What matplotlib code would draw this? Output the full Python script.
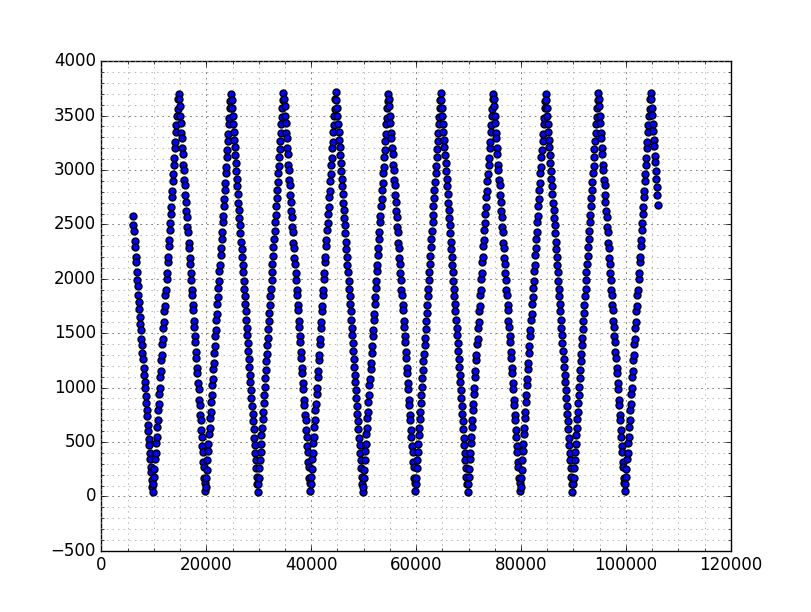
import matplotlib
matplotlib.use("Agg")
import matplotlib.pyplot as plt
from matplotlib.ticker import MultipleLocator

# values, one line per rise / fall of the signal
x_vals = [
    6000, 6090, 6210, 6300, 6380, 6510, 6590, 6700, 6820, 6890, 7000, 7110, 7190, 7300, 7420, 7480, 7600, 7710, 7790, 7900, 8030, 8090, 8200, 8300, 8410, 8490, 8600, 8720, 8780, 8900, 9010, 9090, 9200, 9310, 9390, 9500, 9620, 9690, 9800,
    9900, 10010, 10090, 10200, 10320, 10390, 10500, 10600, 10710, 10790, 10900, 11020, 11090, 11200, 11310, 11400, 11490, 11600, 11720, 11790, 11900, 12010, 12100, 12190, 12300, 12420, 12480, 12600, 12710, 12790, 12900, 13000, 13120, 13190, 13300, 13410, 13490, 13600, 13700, 13820, 13890, 14000, 14100, 14210, 14290, 14400, 14510, 14590, 14700,
    14800, 14910, 14990, 15100, 15210, 15290, 15400, 15500, 15610, 15690, 15800, 15920, 15990, 16100, 16200, 16310, 16390, 16500, 16610, 16700, 16790, 16900, 17010, 17100, 17190, 17300, 17420, 17490, 17600, 17700, 17810, 17890, 18000, 18100, 18210, 18290, 18400, 18510, 18590, 18700, 18800, 18910, 18990, 19100, 19200, 19310, 19390, 19500, 19600, 19710, 19800,
    19900, 20010, 20090, 20200, 20320, 20390, 20500, 20600, 20710, 20790, 20900, 21020, 21090, 21200, 21310, 21400, 21490, 21600, 21720, 21790, 21900, 22010, 22100, 22190, 22300, 22420, 22480, 22600, 22710, 22790, 22900, 23000, 23120, 23190, 23300, 23410, 23490, 23600, 23700, 23820, 23890, 24000, 24100, 24210, 24290, 24400, 24510, 24590, 24700,
    24800, 24910, 24990, 25100, 25210, 25290, 25400, 25500, 25610, 25690, 25800, 25920, 25990, 26100, 26200, 26310, 26390, 26500, 26610, 26700, 26790, 26900, 27010, 27100, 27190, 27300, 27420, 27490, 27600, 27700, 27810, 27890, 28000, 28100, 28210, 28290, 28400, 28510, 28590, 28700, 28800, 28910, 28990, 29100, 29200, 29310, 29390, 29500, 29600, 29710, 29800,
    29900, 30010, 30090, 30200, 30320, 30390, 30500, 30600, 30710, 30790, 30900, 31020, 31090, 31200, 31310, 31400, 31490, 31600, 31720, 31790, 31900, 32010, 32100, 32190, 32300, 32420, 32480, 32600, 32710, 32790, 32900, 33000, 33120, 33190, 33300, 33410, 33490, 33600, 33700, 33820, 33890, 34000, 34100, 34210, 34290, 34400, 34510, 34590, 34700,
    34800, 34910, 34990, 35100, 35210, 35290, 35400, 35500, 35610, 35690, 35800, 35920, 35990, 36100, 36200, 36310, 36390, 36500, 36610, 36700, 36790, 36900, 37010, 37100, 37190, 37300, 37420, 37490, 37600, 37700, 37810, 37890, 38000, 38100, 38210, 38290, 38400, 38510, 38590, 38700, 38800, 38910, 38990, 39100, 39200, 39310, 39390, 39500, 39600, 39710, 39800,
    39900, 40010, 40090, 40200, 40320, 40390, 40500, 40600, 40710, 40790, 40900, 41020, 41090, 41200, 41310, 41400, 41490, 41600, 41720, 41790, 41900, 42010, 42100, 42190, 42300, 42420, 42480, 42600, 42710, 42790, 42900, 43000, 43120, 43190, 43300, 43410, 43490, 43600, 43700, 43820, 43890, 44000, 44100, 44210, 44290, 44400, 44510, 44590, 44700,
    44800, 44910, 44990, 45100, 45210, 45290, 45400, 45500, 45610, 45690, 45800, 45920, 45990, 46100, 46200, 46310, 46390, 46500, 46610, 46700, 46790, 46900, 47010, 47100, 47190, 47300, 47420, 47490, 47600, 47700, 47810, 47890, 48000, 48100, 48210, 48290, 48400, 48510, 48590, 48700, 48800, 48910, 48990, 49100, 49200, 49310, 49390, 49500, 49600, 49710, 49800,
    49900, 50010, 50090, 50200, 50320, 50390, 50500, 50600, 50710, 50790, 50900, 51020, 51090, 51200, 51310, 51400, 51490, 51600, 51720, 51790, 51900, 52010, 52100, 52190, 52300, 52420, 52480, 52600, 52710, 52790, 52900, 53000, 53120, 53190, 53300, 53410, 53490, 53600, 53700, 53820, 53890, 54000, 54100, 54210, 54290, 54400, 54510, 54590, 54700,
    54800, 54910, 54990, 55100, 55210, 55290, 55400, 55500, 55610, 55690, 55800, 55920, 55990, 56100, 56200, 56310, 56390, 56500, 56610, 56700, 56790, 56900, 57010, 57100, 57190, 57300, 57420, 57490, 57600, 57700, 57810, 57890, 58000, 58100, 58210, 58290, 58400, 58510, 58590, 58700, 58800, 58910, 58990, 59100, 59200, 59310, 59390, 59500, 59600, 59710, 59800,
    59900, 60010, 60090, 60200, 60320, 60390, 60500, 60600, 60710, 60790, 60900, 61020, 61090, 61200, 61310, 61400, 61490, 61600, 61720, 61790, 61900, 62010, 62100, 62190, 62300, 62420, 62480, 62600, 62710, 62790, 62900, 63000, 63120, 63190, 63300, 63410, 63490, 63600, 63700, 63820, 63890, 64000, 64100, 64210, 64290, 64400, 64510, 64590, 64700,
    64800, 64910, 64990, 65100, 65210, 65290, 65400, 65500, 65610, 65690, 65800, 65920, 65990, 66100, 66200, 66310, 66390, 66500, 66610, 66700, 66790, 66900, 67010, 67100, 67190, 67300, 67420, 67490, 67600, 67700, 67810, 67890, 68000, 68100, 68210, 68290, 68400, 68510, 68590, 68700, 68800, 68910, 68990, 69100, 69200, 69310, 69390, 69500, 69600, 69710, 69800,
    69900, 70010, 70090, 70200, 70320, 70390, 70500, 70600, 70710, 70790, 70900, 71020, 71090, 71200, 71310, 71400, 71490, 71600, 71720, 71790, 71900, 72010, 72100, 72190, 72300, 72420, 72480, 72600, 72710, 72790, 72900, 73000, 73120, 73190, 73300, 73410, 73490, 73600, 73700, 73820, 73890, 74000, 74100, 74210, 74290, 74400, 74510, 74590, 74700,
    74800, 74910, 74990, 75100, 75210, 75290, 75400, 75500, 75610, 75690, 75800, 75920, 75990, 76100, 76200, 76310, 76390, 76500, 76610, 76700, 76790, 76900, 77010, 77100, 77190, 77300, 77420, 77490, 77600, 77700, 77810, 77890, 78000, 78100, 78210, 78290, 78400, 78510, 78590, 78700, 78800, 78910, 78990, 79100, 79200, 79310, 79390, 79500, 79600, 79710, 79800,
    79900, 80010, 80090, 80200, 80320, 80390, 80500, 80600, 80710, 80790, 80900, 81020, 81090, 81200, 81310, 81400, 81490, 81600, 81720, 81790, 81900, 82010, 82100, 82190, 82300, 82420, 82480, 82600, 82710, 82790, 82900, 83000, 83120, 83190, 83300, 83410, 83490, 83600, 83700, 83820, 83890, 84000, 84100, 84210, 84290, 84400, 84510, 84590, 84700,
    84800, 84910, 84990, 85100, 85210, 85290, 85400, 85500, 85610, 85690, 85800, 85920, 85990, 86100, 86200, 86310, 86390, 86500, 86610, 86700, 86790, 86900, 87010, 87100, 87190, 87300, 87420, 87490, 87600, 87700, 87810, 87890, 88000, 88100, 88210, 88290, 88400, 88510, 88590, 88700, 88800, 88910, 88990, 89100, 89200, 89310, 89390, 89500, 89600, 89710, 89800,
    89900, 90010, 90090, 90200, 90320, 90390, 90500, 90600, 90710, 90790, 90900, 91020, 91090, 91200, 91310, 91400, 91490, 91600, 91720, 91790, 91900, 92010, 92100, 92190, 92300, 92420, 92480, 92600, 92710, 92790, 92900, 93000, 93120, 93190, 93300, 93410, 93490, 93600, 93700, 93820, 93890, 94000, 94100, 94210, 94290, 94400, 94510, 94590, 94700,
    94800, 94910, 94990, 95100, 95210, 95290, 95400, 95500, 95610, 95690, 95800, 95920, 95990, 96100, 96200, 96310, 96390, 96500, 96610, 96700, 96790, 96900, 97010, 97100, 97190, 97300, 97420, 97490, 97600, 97700, 97810, 97890, 98000, 98100, 98210, 98290, 98400, 98510, 98590, 98700, 98800, 98910, 98990, 99100, 99200, 99310, 99390, 99500, 99600, 99710, 99800,
    99900, 100010, 100090, 100200, 100320, 100390, 100500, 100600, 100710, 100790, 100900, 101020, 101090, 101200, 101310, 101400, 101490, 101600, 101720, 101790, 101900, 102010, 102100, 102190, 102300, 102420, 102480, 102600, 102710, 102790, 102900, 103000, 103120, 103190, 103300, 103410, 103490, 103600, 103700, 103820, 103890, 104000, 104100, 104210, 104290, 104400, 104510, 104590, 104700,
    104800, 104910, 104990, 105100, 105210, 105290, 105400, 105500, 105610, 105690, 105800, 105920, 105990, 106100,
]

y_vals = [
    2580, 2490, 2440, 2350, 2290, 2200, 2150, 2060, 1990, 1930, 1850, 1790, 1720, 1650, 1580, 1530, 1450, 1390, 1320, 1260, 1180, 1120, 1050, 1000, 920, 860, 790, 740, 660, 600, 530, 470, 400, 340, 270, 220, 150, 90, 40,
    110, 180, 250, 340, 400, 490, 550, 640, 700, 790, 850, 940, 1000, 1100, 1150, 1250, 1300, 1400, 1450, 1550, 1600, 1700, 1750, 1850, 1900, 2000, 2050, 2150, 2200, 2300, 2360, 2450, 2510, 2600, 2660, 2750, 2810, 2900, 2960, 3050, 3110, 3200, 3260, 3350, 3410, 3500, 3560, 3650, 3700,
    3650, 3590, 3500, 3430, 3340, 3290, 3200, 3150, 3050, 3000, 2910, 2860, 2770, 2710, 2620, 2570, 2480, 2430, 2330, 2280, 2190, 2140, 2050, 1990, 1900, 1850, 1760, 1710, 1610, 1560, 1470, 1420, 1330, 1270, 1180, 1130, 1040, 990, 890, 840, 750, 700, 610, 550, 460, 410, 320, 270, 170, 120, 50,
    90, 170, 240, 330, 420, 480, 570, 630, 720, 780, 870, 930, 1020, 1080, 1170, 1230, 1320, 1380, 1470, 1530, 1620, 1680, 1770, 1830, 1920, 1980, 2070, 2130, 2220, 2280, 2370, 2430, 2520, 2580, 2670, 2730, 2820, 2880, 2970, 3030, 3120, 3180, 3270, 3330, 3420, 3480, 3570, 3630, 3700,
    3640, 3570, 3500, 3420, 3350, 3280, 3210, 3140, 3060, 2990, 2920, 2850, 2780, 2700, 2630, 2560, 2490, 2420, 2340, 2270, 2200, 2130, 2060, 1980, 1910, 1840, 1770, 1700, 1620, 1550, 1480, 1410, 1340, 1260, 1190, 1120, 1050, 980, 900, 830, 760, 690, 620, 540, 470, 400, 330, 260, 180, 110, 40,
    110, 170, 260, 330, 410, 480, 560, 630, 710, 780, 860, 930, 1010, 1090, 1160, 1240, 1310, 1390, 1460, 1540, 1610, 1690, 1760, 1840, 1910, 1990, 2060, 2140, 2210, 2290, 2370, 2440, 2520, 2590, 2670, 2740, 2820, 2890, 2970, 3040, 3120, 3190, 3270, 3340, 3420, 3490, 3570, 3640, 3710,
    3650, 3590, 3500, 3430, 3340, 3290, 3200, 3150, 3050, 3000, 2910, 2860, 2770, 2710, 2620, 2570, 2480, 2430, 2330, 2280, 2190, 2140, 2050, 1990, 1900, 1850, 1760, 1710, 1610, 1560, 1470, 1420, 1330, 1270, 1180, 1130, 1040, 990, 890, 840, 750, 700, 610, 550, 460, 410, 320, 270, 170, 120, 50,
    110, 180, 250, 340, 400, 490, 550, 640, 700, 790, 850, 940, 1000, 1100, 1150, 1250, 1300, 1400, 1450, 1550, 1600, 1700, 1750, 1850, 1900, 2000, 2050, 2150, 2200, 2300, 2360, 2450, 2510, 2600, 2660, 2750, 2810, 2900, 2960, 3050, 3110, 3200, 3260, 3350, 3410, 3500, 3560, 3650, 3720,
    3640, 3570, 3500, 3420, 3350, 3280, 3210, 3140, 3060, 2990, 2920, 2850, 2780, 2700, 2630, 2560, 2490, 2420, 2340, 2270, 2200, 2130, 2060, 1980, 1910, 1840, 1770, 1700, 1620, 1550, 1480, 1410, 1340, 1260, 1190, 1120, 1050, 980, 900, 830, 760, 690, 620, 540, 470, 400, 330, 260, 180, 110, 40,
    90, 170, 240, 330, 420, 480, 570, 630, 720, 780, 870, 930, 1020, 1080, 1170, 1230, 1320, 1380, 1470, 1530, 1620, 1680, 1770, 1830, 1920, 1980, 2070, 2130, 2220, 2280, 2370, 2430, 2520, 2580, 2670, 2730, 2820, 2880, 2970, 3030, 3120, 3180, 3270, 3330, 3420, 3480, 3570, 3630, 3700,
    3650, 3590, 3500, 3430, 3340, 3290, 3200, 3150, 3050, 3000, 2910, 2860, 2770, 2710, 2620, 2570, 2480, 2430, 2330, 2280, 2190, 2140, 2050, 1990, 1900, 1850, 1760, 1710, 1610, 1560, 1470, 1420, 1330, 1270, 1180, 1130, 1040, 990, 890, 840, 750, 700, 610, 550, 460, 410, 320, 270, 170, 120, 50,
    110, 170, 260, 330, 410, 480, 560, 630, 710, 780, 860, 930, 1010, 1090, 1160, 1240, 1310, 1390, 1460, 1540, 1610, 1690, 1760, 1840, 1910, 1990, 2060, 2140, 2210, 2290, 2370, 2440, 2520, 2590, 2670, 2740, 2820, 2890, 2970, 3040, 3120, 3190, 3270, 3340, 3420, 3490, 3570, 3640, 3710,
    3640, 3570, 3500, 3420, 3350, 3280, 3210, 3140, 3060, 2990, 2920, 2850, 2780, 2700, 2630, 2560, 2490, 2420, 2340, 2270, 2200, 2130, 2060, 1980, 1910, 1840, 1770, 1700, 1620, 1550, 1480, 1410, 1340, 1260, 1190, 1120, 1050, 980, 900, 830, 760, 690, 620, 540, 470, 400, 330, 260, 180, 110, 40,
    110, 180, 250, 340, 400, 490, 550, 640, 700, 790, 850, 940, 1000, 1100, 1150, 1250, 1300, 1400, 1450, 1550, 1600, 1700, 1750, 1850, 1900, 2000, 2050, 2150, 2200, 2300, 2360, 2450, 2510, 2600, 2660, 2750, 2810, 2900, 2960, 3050, 3110, 3200, 3260, 3350, 3410, 3500, 3560, 3650, 3700,
    3650, 3590, 3500, 3430, 3340, 3290, 3200, 3150, 3050, 3000, 2910, 2860, 2770, 2710, 2620, 2570, 2480, 2430, 2330, 2280, 2190, 2140, 2050, 1990, 1900, 1850, 1760, 1710, 1610, 1560, 1470, 1420, 1330, 1270, 1180, 1130, 1040, 990, 890, 840, 750, 700, 610, 550, 460, 410, 320, 270, 170, 120, 50,
    90, 170, 240, 330, 420, 480, 570, 630, 720, 780, 870, 930, 1020, 1080, 1170, 1230, 1320, 1380, 1470, 1530, 1620, 1680, 1770, 1830, 1920, 1980, 2070, 2130, 2220, 2280, 2370, 2430, 2520, 2580, 2670, 2730, 2820, 2880, 2970, 3030, 3120, 3180, 3270, 3330, 3420, 3480, 3570, 3630, 3700,
    3640, 3570, 3500, 3420, 3350, 3280, 3210, 3140, 3060, 2990, 2920, 2850, 2780, 2700, 2630, 2560, 2490, 2420, 2340, 2270, 2200, 2130, 2060, 1980, 1910, 1840, 1770, 1700, 1620, 1550, 1480, 1410, 1340, 1260, 1190, 1120, 1050, 980, 900, 830, 760, 690, 620, 540, 470, 400, 330, 260, 180, 110, 40,
    110, 170, 260, 330, 410, 480, 560, 630, 710, 780, 860, 930, 1010, 1090, 1160, 1240, 1310, 1390, 1460, 1540, 1610, 1690, 1760, 1840, 1910, 1990, 2060, 2140, 2210, 2290, 2370, 2440, 2520, 2590, 2670, 2740, 2820, 2890, 2970, 3040, 3120, 3190, 3270, 3340, 3420, 3490, 3570, 3640, 3710,
    3650, 3590, 3500, 3430, 3340, 3290, 3200, 3150, 3050, 3000, 2910, 2860, 2770, 2710, 2620, 2570, 2480, 2430, 2330, 2280, 2190, 2140, 2050, 1990, 1900, 1850, 1760, 1710, 1610, 1560, 1470, 1420, 1330, 1270, 1180, 1130, 1040, 990, 890, 840, 750, 700, 610, 550, 460, 410, 320, 270, 170, 120, 50,
    110, 180, 250, 340, 400, 490, 550, 640, 700, 790, 850, 940, 1000, 1100, 1150, 1250, 1300, 1400, 1450, 1550, 1600, 1700, 1750, 1850, 1900, 2000, 2050, 2150, 2200, 2300, 2360, 2450, 2510, 2600, 2660, 2750, 2810, 2900, 2960, 3050, 3110, 3200, 3260, 3350, 3410, 3500, 3560, 3650, 3710,
    3650, 3570, 3510, 3420, 3360, 3280, 3220, 3130, 3070, 2990, 2920, 2840, 2770, 2680,
]

plt.style.use("classic")
fig = plt.figure(figsize=(8.12, 6.12), dpi=100)
ax = fig.add_axes([0.125, 0.1, 0.775, 0.8])

ax.scatter(x_vals, y_vals, s=25, c="b", edgecolors="k", linewidths=1, zorder=3)

ax.set_xlim(0, 120000)
ax.set_ylim(-500, 4000)
ax.xaxis.set_major_locator(MultipleLocator(20000))
ax.xaxis.set_minor_locator(MultipleLocator(5000))
ax.yaxis.set_major_locator(MultipleLocator(500))
ax.yaxis.set_minor_locator(MultipleLocator(100))
ax.xaxis.remove_overlapping_locs = False
ax.yaxis.remove_overlapping_locs = False

ax.grid(True, which="major", color="k", linestyle=":", linewidth=0.5)
ax.grid(True, which="minor", color="0.6", linestyle=":", linewidth=0.5)
ax.tick_params(labelsize=12)

fig.savefig("out.png", dpi=100)
